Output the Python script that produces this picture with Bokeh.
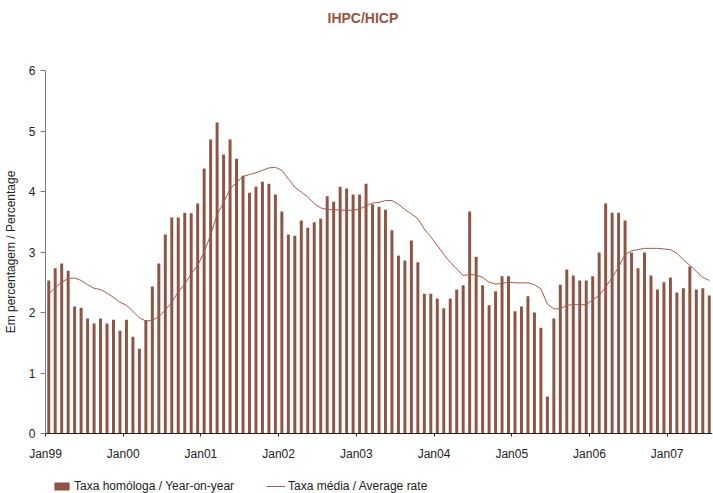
from bokeh.plotting import figure
from bokeh.models import ColumnDataSource, FixedTicker, Legend, LegendItem, Range1d, Title
from bokeh.embed import file_html
from bokeh.resources import INLINE

# ---- data ----
tick_labels = ["Jan99", "Jan00", "Jan01", "Jan02", "Jan03", "Jan04", "Jan05", "Jan06", "Jan07"]

# Taxa homóloga / Year-on-year (monthly, Jan99 .. Jul07)
yoy = [2.53, 2.73, 2.81, 2.69, 2.10, 2.08, 1.90, 1.82, 1.90, 1.82, 1.88, 1.70,
       1.88, 1.60, 1.40, 1.87, 2.43, 2.81, 3.29, 3.57, 3.57, 3.65, 3.64, 3.80,
       4.38, 4.86, 5.14, 4.61, 4.86, 4.54, 4.26, 3.98, 4.08, 4.16, 4.13, 3.95,
       3.67, 3.29, 3.27, 3.52, 3.40, 3.49, 3.55, 3.92, 3.83, 4.08, 4.05, 3.95,
       3.95, 4.13, 3.79, 3.75, 3.70, 3.36, 2.94, 2.86, 3.19, 2.83, 2.31, 2.31,
       2.23, 2.07, 2.23, 2.38, 2.45, 3.67, 2.92, 2.45, 2.12, 2.35, 2.60, 2.60,
       2.02, 2.10, 2.27, 2.00, 1.75, 0.61, 1.90, 2.46, 2.71, 2.61, 2.53, 2.53,
       2.60, 2.99, 3.80, 3.65, 3.65, 3.52, 2.99, 2.73, 2.99, 2.61, 2.38, 2.50,
       2.58, 2.33, 2.40, 2.76, 2.38, 2.40, 2.28]

# Taxa média / Average rate
avg = [2.31, 2.41, 2.50, 2.56, 2.57, 2.53, 2.46, 2.40, 2.38, 2.32, 2.25, 2.17,
       2.12, 2.02, 1.91, 1.86, 1.87, 1.93, 2.04, 2.17, 2.34, 2.47, 2.64, 2.78,
       3.00, 3.28, 3.62, 3.82, 4.04, 4.15, 4.25, 4.28, 4.31, 4.35, 4.39, 4.40,
       4.35, 4.21, 4.07, 3.99, 3.91, 3.80, 3.73, 3.70, 3.70, 3.69, 3.69, 3.69,
       3.71, 3.76, 3.81, 3.82, 3.85, 3.85, 3.79, 3.70, 3.63, 3.55, 3.38, 3.25,
       3.11, 2.96, 2.83, 2.72, 2.61, 2.63, 2.62, 2.58, 2.50, 2.47, 2.48, 2.50,
       2.49, 2.49, 2.49, 2.46, 2.39, 2.14, 2.06, 2.06, 2.12, 2.13, 2.13, 2.13,
       2.21, 2.28, 2.42, 2.58, 2.75, 2.96, 3.02, 3.04, 3.06, 3.06, 3.06, 3.05,
       3.04, 2.98, 2.87, 2.78, 2.68, 2.58, 2.53]

n = len(yoy)
xs = [i + 0.5 for i in range(n)]
src = ColumnDataSource(dict(x=xs, yoy=yoy, avg=avg))

BAR = "#8E5544"
LINE = "#A55A48"
FONT = "Liberation Sans"

# the frame covers the whole page below the title; the axes are drawn at x=0 / y=0
Y_MAX = 6
PX = 363.0 / Y_MAX               # pixels per unit on the value axis
Y_MIN = -60.0 / PX               # room under 0 for tick labels and legend
Y_TOP = Y_MAX + 10.0 / PX        # room above 6 for its tick label
X_MIN = -n * 45.0 / 667.0        # room left of the first month for the value axis

p = figure(width=713, height=493, x_range=Range1d(X_MIN, n), y_range=Range1d(Y_MIN, Y_TOP),
           output_backend="svg", toolbar_location=None,
           min_border_left=0, min_border_right=1, min_border_top=60, min_border_bottom=0,
           title="IHPC/HICP")

p.title.align = "left"
p.title.offset = 327
p.title.vertical_align = "bottom"
p.title.standoff = 10
p.title.text_font = FONT
p.title.text_font_size = "14px"
p.title.text_font_style = "bold"
p.title.text_color = "#98543F"

# empty spacer between the title and the plot frame
p.add_layout(Title(text=" ", text_font_size="12px", standoff=14), "above")

bars = p.vbar(x="x", top="yoy", width=0.46, source=src, fill_color=BAR, line_color=None)
line = p.line(x="x", y="avg", source=src, line_color=LINE, line_width=1.0)

p.xgrid.visible = False
p.ygrid.visible = False
p.outline_line_color = None
p.background_fill_color = "white"
p.border_fill_color = "white"

# x axis, drawn at y = 0
xa = p.xaxis[0]
xa.fixed_location = 0
xa.bounds = (0, n)
xa.ticker = FixedTicker(ticks=[12 * k for k in range(len(tick_labels))])
xa.major_label_overrides = {12 * k: lab for k, lab in enumerate(tick_labels)}
xa.minor_tick_line_color = None
xa.major_tick_in = 0
xa.major_tick_out = 3
xa.major_label_standoff = 10
xa.axis_line_color = "#222222"
xa.major_tick_line_color = "#222222"
xa.major_label_text_font = FONT
xa.major_label_text_font_size = "12px"
xa.major_label_text_color = "#222222"

# y axis, drawn at x = 0
ya = p.yaxis[0]
ya.fixed_location = 0
ya.bounds = (0, Y_MAX)
ya.ticker = FixedTicker(ticks=[0, 1, 2, 3, 4, 5, 6])
ya.minor_tick_line_color = None
ya.major_tick_in = 0
ya.major_tick_out = 5
ya.major_label_standoff = 5
ya.axis_line_color = "#7a7a7a"
ya.major_tick_line_color = "#7a7a7a"
ya.major_label_text_font = FONT
ya.major_label_text_font_size = "12px"
ya.major_label_text_color = "#222222"
ya.axis_label = "Em percentagem / Percentage"
ya.axis_label_text_font = FONT
ya.axis_label_text_font_size = "12px"
ya.axis_label_text_font_style = "normal"
ya.axis_label_text_color = "#222222"
ya.axis_label_standoff = 8

legend = Legend(items=[LegendItem(label="Taxa homóloga / Year-on-year", renderers=[bars]),
                       LegendItem(label="Taxa média / Average rate", renderers=[line])],
                orientation="horizontal", location=(52, 0))
legend.margin = 0
legend.padding = 0
legend.spacing = 32
legend.glyph_width = 19
legend.glyph_height = 10
legend.label_height = 12
legend.label_standoff = 3
legend.label_text_font = FONT
legend.label_text_font_size = "12px"
legend.label_text_color = "#222222"
legend.background_fill_alpha = 0
legend.border_line_color = None
p.add_layout(legend)

open("out.html", "w").write(file_html(p, INLINE))
